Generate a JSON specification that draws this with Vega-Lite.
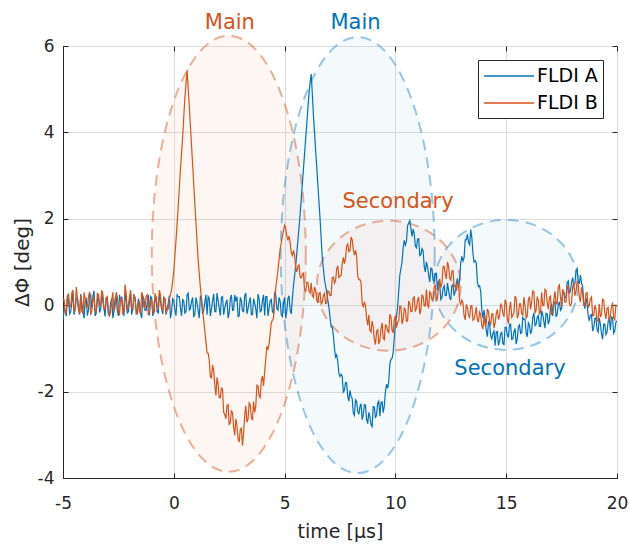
{
 "$schema": "https://vega.github.io/schema/vega-lite/v6.json",
 "width": 554,
 "height": 432,
 "autosize": {"type": "none"},
 "padding": {"left": 63, "top": 46, "right": 12, "bottom": 67},
 "background": "white",
 "config": {
  "font": "DejaVu Sans",
  "view": {"stroke": "#262626", "strokeWidth": 1},
  "axis": {"domainColor": "#262626", "tickColor": "#262626", "labelColor": "#262626", "titleColor": "#262626", "gridColor": "#dedede", "labelFont": "DejaVu Sans", "labelFontSize": 17, "titleFont": "DejaVu Sans", "titleFontSize": 19, "titleFontWeight": "normal"},
  "legend": {"orient": "top-right", "offset": 14, "strokeColor": "#262626", "fillColor": "white", "padding": 5, "labelFont": "DejaVu Sans", "labelFontSize": 19, "labelColor": "#000000", "symbolType": "M -2.5 0 L 2.5 0", "symbolSize": 400, "symbolStrokeWidth": 1.5, "symbolOffset": 15, "labelOffset": 17, "rowPadding": 6}
 },
 "datasets": {
  "ell": [
   {"cx": 2.48, "cy": 1.19, "kind": "main", "series": "b"},
   {"cx": 8.3, "cy": 1.16, "kind": "main", "series": "a"},
   {"cx": 9.7, "cy": 0.45, "kind": "sec", "series": "b"},
   {"cx": 15.0, "cy": 0.47, "kind": "sec", "series": "a"}
  ],
  "lab": [
   {"x": 2.53, "y": 6.39, "txt": "Main", "series": "b"},
   {"x": 8.2, "y": 6.39, "txt": "Main", "series": "a"},
   {"x": 10.12, "y": 2.25, "txt": "Secondary", "series": "b"},
   {"x": 15.17, "y": -1.62, "txt": "Secondary", "series": "a"}
  ],
  "sig": [
{"t":-5.0,"a":-0.35,"b":0.14},{"t":-4.95,"a":-0.05,"b":0.13},{"t":-4.9,"a":-0.13,"b":-0.21},{"t":-4.85,"a":-0.25,"b":-0.13},{"t":-4.8,"a":0.22,"b":0.2},{"t":-4.75,"a":0.1,"b":0.27},{"t":-4.7,"a":-0.2,"b":-0.06},{"t":-4.65,"a":-0.15,"b":0.0},{"t":-4.6,"a":0.07,"b":0.29},{"t":-4.55,"a":0.28,"b":0.35},
{"t":-4.5,"a":-0.22,"b":-0.15},{"t":-4.45,"a":-0.08,"b":-0.1},{"t":-4.4,"a":0.15,"b":0.42},{"t":-4.35,"a":0.18,"b":0.17},{"t":-4.3,"a":-0.09,"b":-0.08},{"t":-4.25,"a":-0.22,"b":-0.19},{"t":-4.2,"a":0.26,"b":0.23},{"t":-4.15,"a":0.05,"b":-0.15},{"t":-4.1,"a":-0.15,"b":-0.19},{"t":-4.05,"a":-0.3,"b":0.3},
{"t":-4.0,"a":0.11,"b":0.16},{"t":-3.95,"a":0.15,"b":-0.05},{"t":-3.9,"a":-0.24,"b":-0.04},{"t":-3.85,"a":-0.12,"b":0.2},{"t":-3.8,"a":0.2,"b":0.31},{"t":-3.75,"a":0.24,"b":-0.23},{"t":-3.7,"a":-0.07,"b":-0.13},{"t":-3.65,"a":0.2,"b":0.13},{"t":-3.6,"a":0.33,"b":0.18},{"t":-3.55,"a":-0.25,"b":-0.13},
{"t":-3.5,"a":-0.18,"b":-0.17},{"t":-3.45,"a":0.1,"b":0.27},{"t":-3.4,"a":0.24,"b":0.25},{"t":-3.35,"a":-0.15,"b":0.0},{"t":-3.3,"a":-0.11,"b":-0.02},{"t":-3.25,"a":0.28,"b":0.35},{"t":-3.2,"a":0.09,"b":0.27},{"t":-3.15,"a":-0.08,"b":-0.1},{"t":-3.1,"a":-0.26,"b":-0.1},{"t":-3.05,"a":0.18,"b":0.17},
{"t":-3.0,"a":0.12,"b":0.2},{"t":-2.95,"a":-0.22,"b":-0.19},{"t":-2.9,"a":-0.2,"b":-0.25},{"t":-2.85,"a":0.05,"b":-0.15},{"t":-2.8,"a":0.16,"b":0.12},{"t":-2.75,"a":-0.3,"b":0.3},{"t":-2.7,"a":-0.14,"b":-0.14},{"t":-2.65,"a":0.15,"b":-0.05},{"t":-2.6,"a":0.22,"b":0.3},{"t":-2.55,"a":-0.12,"b":0.2},
{"t":-2.5,"a":-0.25,"b":-0.1},{"t":-2.45,"a":0.24,"b":-0.23},{"t":-2.4,"a":0.1,"b":0.16},{"t":-2.35,"a":0.2,"b":0.13},{"t":-2.3,"a":-0.05,"b":-0.22},{"t":-2.25,"a":-0.25,"b":-0.13},{"t":-2.2,"a":0.28,"b":0.48},{"t":-2.15,"a":0.1,"b":0.27},{"t":-2.1,"a":-0.18,"b":-0.12},{"t":-2.05,"a":-0.15,"b":0.0},
{"t":-2.0,"a":0.08,"b":0.2},{"t":-1.95,"a":0.28,"b":0.35},{"t":-1.9,"a":-0.22,"b":-0.08},{"t":-1.85,"a":-0.08,"b":-0.1},{"t":-1.8,"a":0.18,"b":0.26},{"t":-1.75,"a":0.18,"b":0.17},{"t":-1.7,"a":-0.1,"b":-0.2},{"t":-1.65,"a":-0.22,"b":-0.19},{"t":-1.6,"a":0.15,"b":0.1},{"t":-1.55,"a":0.05,"b":-0.15},
{"t":-1.5,"a":-0.2,"b":-0.18},{"t":-1.45,"a":-0.3,"b":0.3},{"t":-1.4,"a":0.21,"b":0.22},{"t":-1.35,"a":0.15,"b":-0.05},{"t":-1.3,"a":-0.12,"b":-0.05},{"t":-1.25,"a":-0.12,"b":0.2},{"t":-1.2,"a":0.06,"b":0.24},{"t":-1.15,"a":0.24,"b":-0.23},{"t":-1.1,"a":-0.24,"b":-0.14},{"t":-1.05,"a":0.2,"b":0.13},
{"t":-1.0,"a":0.17,"b":0.12},{"t":-0.95,"a":-0.25,"b":-0.13},{"t":-0.9,"a":-0.15,"b":-0.2},{"t":-0.85,"a":0.1,"b":0.27},{"t":-0.8,"a":0.2,"b":0.18},{"t":-0.75,"a":-0.15,"b":0.0},{"t":-0.7,"a":-0.18,"b":-0.08},{"t":-0.65,"a":0.28,"b":0.35},{"t":-0.6,"a":0.09,"b":0.22},{"t":-0.55,"a":-0.08,"b":-0.1},
{"t":-0.5,"a":-0.2,"b":-0.12},{"t":-0.45,"a":0.18,"b":0.17},{"t":-0.4,"a":0.14,"b":0.15},{"t":-0.35,"a":-0.22,"b":-0.19},{"t":-0.3,"a":-0.1,"b":-0.05},{"t":-0.25,"a":0.05,"b":-0.08},{"t":-0.2,"a":0.22,"b":0.15},{"t":-0.15,"a":-0.3,"b":0.25},{"t":-0.1,"a":-0.14,"b":0.35},{"t":-0.05,"a":0.15,"b":0.55},
{"t":0.0,"a":0.11,"b":0.8},{"t":0.05,"a":-0.12,"b":1.15},{"t":0.1,"a":-0.24,"b":1.5},{"t":0.15,"a":0.24,"b":1.9},{"t":0.2,"a":0.2,"b":2.3},{"t":0.25,"a":0.2,"b":2.72},{"t":0.3,"a":-0.07,"b":3.15},{"t":0.35,"a":-0.25,"b":3.52},{"t":0.4,"a":0.13,"b":3.9},{"t":0.45,"a":0.1,"b":4.35},
{"t":0.5,"a":-0.18,"b":4.8},{"t":0.55,"a":-0.15,"b":5.12},{"t":0.6,"a":0.24,"b":5.45},{"t":0.65,"a":0.28,"b":5.0},{"t":0.7,"a":-0.11,"b":4.6},{"t":0.75,"a":-0.08,"b":4.15},{"t":0.8,"a":0.09,"b":3.7},{"t":0.85,"a":0.18,"b":3.25},{"t":0.9,"a":-0.26,"b":2.8},{"t":0.95,"a":-0.22,"b":2.35},
{"t":1.0,"a":0.18,"b":1.9},{"t":1.05,"a":0.05,"b":1.47},{"t":1.1,"a":-0.13,"b":1.05},{"t":1.15,"a":-0.3,"b":0.72},{"t":1.2,"a":0.22,"b":0.4},{"t":1.25,"a":0.15,"b":0.15},{"t":1.3,"a":-0.2,"b":-0.1},{"t":1.35,"a":-0.12,"b":-0.35},{"t":1.4,"a":0.07,"b":-0.6},{"t":1.45,"a":0.24,"b":-0.85},
{"t":1.5,"a":-0.22,"b":-1.1},{"t":1.55,"a":0.2,"b":-1.11},{"t":1.6,"a":0.15,"b":-1.28},{"t":1.65,"a":-0.25,"b":-1.66},{"t":1.7,"a":-0.09,"b":-1.68},{"t":1.75,"a":0.1,"b":-1.38},{"t":1.8,"a":0.26,"b":-1.52},{"t":1.85,"a":-0.15,"b":-1.85},{"t":1.9,"a":-0.15,"b":-2.09},{"t":1.95,"a":0.28,"b":-1.67},
{"t":2.0,"a":0.11,"b":-1.84},{"t":2.05,"a":-0.08,"b":-2.14},{"t":2.1,"a":-0.24,"b":-2.14},{"t":2.15,"a":0.18,"b":-1.92},{"t":2.2,"a":0.2,"b":-1.94},{"t":2.25,"a":-0.22,"b":-2.48},{"t":2.3,"a":-0.07,"b":-2.53},{"t":2.35,"a":0.05,"b":-2.63},{"t":2.4,"a":0.13,"b":-2.32},{"t":2.45,"a":-0.3,"b":-2.3},
{"t":2.5,"a":-0.18,"b":-2.77},{"t":2.55,"a":0.15,"b":-2.71},{"t":2.6,"a":0.24,"b":-2.45},{"t":2.65,"a":-0.12,"b":-2.49},{"t":2.7,"a":-0.11,"b":-2.82},{"t":2.75,"a":0.24,"b":-3.01},{"t":2.8,"a":0.09,"b":-2.63},{"t":2.85,"a":0.2,"b":-2.79},{"t":2.9,"a":-0.26,"b":-3.1},{"t":2.95,"a":-0.25,"b":-3.17},
{"t":3.0,"a":0.18,"b":-2.88},{"t":3.05,"a":0.1,"b":-2.85},{"t":3.1,"a":-0.13,"b":-3.25},{"t":3.15,"a":-0.15,"b":-2.95},{"t":3.2,"a":0.22,"b":-2.55},{"t":3.25,"a":0.28,"b":-2.33},{"t":3.3,"a":-0.2,"b":-2.71},{"t":3.35,"a":-0.08,"b":-2.64},{"t":3.4,"a":0.07,"b":-2.26},{"t":3.45,"a":0.18,"b":-2.31},
{"t":3.5,"a":-0.22,"b":-2.6},{"t":3.55,"a":-0.22,"b":-2.66},{"t":3.6,"a":0.15,"b":-2.23},{"t":3.65,"a":0.05,"b":-2.48},{"t":3.7,"a":-0.09,"b":-2.33},{"t":3.75,"a":-0.3,"b":-1.85},{"t":3.8,"a":0.26,"b":-1.87},{"t":3.85,"a":0.15,"b":-2.1},{"t":3.9,"a":-0.15,"b":-2.14},{"t":3.95,"a":-0.12,"b":-1.74},
{"t":4.0,"a":0.11,"b":-1.64},{"t":4.05,"a":0.24,"b":-1.87},{"t":4.1,"a":-0.24,"b":-1.54},{"t":4.15,"a":0.2,"b":-1.25},{"t":4.2,"a":0.2,"b":-0.95},{"t":4.25,"a":-0.25,"b":-1.03},{"t":4.3,"a":-0.07,"b":-0.9},{"t":4.35,"a":0.1,"b":-0.65},{"t":4.4,"a":0.13,"b":-0.4},{"t":4.45,"a":-0.15,"b":-0.35},
{"t":4.5,"a":-0.18,"b":-0.3},{"t":4.55,"a":0.28,"b":0.05},{"t":4.6,"a":0.24,"b":0.4},{"t":4.65,"a":-0.08,"b":0.6},{"t":4.7,"a":-0.11,"b":0.8},{"t":4.75,"a":0.18,"b":1.05},{"t":4.8,"a":0.09,"b":1.3},{"t":4.85,"a":-0.22,"b":1.45},{"t":4.9,"a":-0.26,"b":1.6},{"t":4.95,"a":0.05,"b":1.72},
{"t":5.0,"a":0.18,"b":1.85},{"t":5.05,"a":-0.3,"b":1.78},{"t":5.1,"a":-0.13,"b":1.6},{"t":5.15,"a":0.15,"b":1.5},{"t":5.2,"a":0.22,"b":1.6},{"t":5.25,"a":-0.12,"b":1.45},{"t":5.3,"a":-0.2,"b":1.22},{"t":5.35,"a":0.15,"b":1.15},{"t":5.4,"a":0.45,"b":1.27},{"t":5.45,"a":0.68,"b":1.15},
{"t":5.5,"a":0.9,"b":0.88},{"t":5.55,"a":1.2,"b":0.77},{"t":5.6,"a":1.5,"b":0.9},{"t":5.65,"a":1.8,"b":0.93},{"t":5.7,"a":2.1,"b":0.65},{"t":5.75,"a":2.45,"b":0.63},{"t":5.8,"a":2.8,"b":0.72},{"t":5.85,"a":3.15,"b":0.74},{"t":5.9,"a":3.5,"b":0.35},{"t":5.95,"a":3.85,"b":0.32},
{"t":6.0,"a":4.2,"b":0.53},{"t":6.05,"a":4.55,"b":0.53},{"t":6.1,"a":4.9,"b":0.33},{"t":6.15,"a":5.15,"b":0.28},{"t":6.2,"a":5.35,"b":0.52},{"t":6.25,"a":4.9,"b":0.23},{"t":6.3,"a":4.4,"b":0.18},{"t":6.35,"a":4.0,"b":0.42},{"t":6.4,"a":3.6,"b":0.35},{"t":6.45,"a":3.2,"b":0.12},
{"t":6.5,"a":2.8,"b":0.05},{"t":6.55,"a":2.4,"b":0.27},{"t":6.6,"a":2.0,"b":0.29},{"t":6.65,"a":1.55,"b":0.03},{"t":6.7,"a":1.1,"b":0.07},{"t":6.75,"a":0.85,"b":0.22},{"t":6.8,"a":0.6,"b":0.27},{"t":6.85,"a":0.45,"b":0.04},{"t":6.9,"a":0.3,"b":0.05},{"t":6.95,"a":0.12,"b":0.33},
{"t":7.0,"a":-0.05,"b":0.31},{"t":7.05,"a":-0.28,"b":0.22},{"t":7.1,"a":-0.5,"b":0.23},{"t":7.15,"a":-0.5,"b":0.64},{"t":7.2,"a":-0.7,"b":0.65},{"t":7.25,"a":-1.0,"b":0.51},{"t":7.3,"a":-1.2,"b":0.57},{"t":7.35,"a":-1.15,"b":0.84},{"t":7.4,"a":-1.3,"b":0.91},{"t":7.45,"a":-1.58,"b":0.64},
{"t":7.5,"a":-1.65,"b":0.67},{"t":7.55,"a":-1.6,"b":0.69},{"t":7.6,"a":-1.65,"b":0.95},{"t":7.65,"a":-2.01,"b":1.11},{"t":7.7,"a":-1.97,"b":0.96},{"t":7.75,"a":-1.79,"b":1.09},{"t":7.8,"a":-1.8,"b":1.37},{"t":7.85,"a":-2.11,"b":1.41},{"t":7.9,"a":-2.22,"b":1.24},{"t":7.95,"a":-1.97,"b":1.26},
{"t":8.0,"a":-2.11,"b":1.58},{"t":8.05,"a":-2.16,"b":1.52},{"t":8.1,"a":-2.5,"b":1.29},{"t":8.15,"a":-2.55,"b":1.16},{"t":8.2,"a":-2.19,"b":1.27},{"t":8.25,"a":-2.23,"b":1.13},{"t":8.3,"a":-2.46,"b":0.68},{"t":8.35,"a":-2.53,"b":0.59},{"t":8.4,"a":-2.35,"b":0.59},{"t":8.45,"a":-2.28,"b":0.52},
{"t":8.5,"a":-2.65,"b":0.05},{"t":8.55,"a":-2.54,"b":-0.05},{"t":8.6,"a":-2.3,"b":0.08},{"t":8.65,"a":-2.32,"b":-0.01},{"t":8.7,"a":-2.64,"b":-0.3},{"t":8.75,"a":-2.74,"b":-0.46},{"t":8.8,"a":-2.48,"b":-0.22},{"t":8.85,"a":-2.58,"b":-0.58},{"t":8.9,"a":-2.77,"b":-0.62},{"t":8.95,"a":-2.81,"b":-0.37},
{"t":9.0,"a":-2.35,"b":-0.51},{"t":9.05,"a":-2.36,"b":-0.79},{"t":9.1,"a":-2.61,"b":-0.91},{"t":9.15,"a":-2.54,"b":-0.61},{"t":9.2,"a":-2.27,"b":-0.55},{"t":9.25,"a":-2.22,"b":-0.9},{"t":9.3,"a":-2.57,"b":-0.81},{"t":9.35,"a":-2.25,"b":-0.55},{"t":9.4,"a":-2.24,"b":-0.41},{"t":9.45,"a":-2.49,"b":-0.76},
{"t":9.5,"a":-2.33,"b":-0.8},{"t":9.55,"a":-2.0,"b":-0.46},{"t":9.6,"a":-1.83,"b":-0.48},{"t":9.65,"a":-1.92,"b":-0.6},{"t":9.7,"a":-1.77,"b":-0.63},{"t":9.75,"a":-1.36,"b":-0.21},{"t":9.8,"a":-1.25,"b":-0.27},{"t":9.85,"a":-1.23,"b":-0.58},{"t":9.9,"a":-1.1,"b":-0.64},{"t":9.95,"a":-0.76,"b":-0.34},
{"t":10.0,"a":-0.42,"b":-0.24},{"t":10.05,"a":-0.24,"b":-0.52},{"t":10.1,"a":-0.05,"b":-0.39},{"t":10.15,"a":0.33,"b":-0.37},{"t":10.2,"a":0.7,"b":-0.02},{"t":10.25,"a":0.85,"b":-0.03},{"t":10.3,"a":1.0,"b":-0.43},{"t":10.35,"a":1.33,"b":-0.33},{"t":10.4,"a":1.5,"b":-0.07},{"t":10.45,"a":1.39,"b":-0.1},
{"t":10.5,"a":1.48,"b":-0.37},{"t":10.55,"a":1.84,"b":-0.36},{"t":10.6,"a":1.9,"b":0.1},{"t":10.65,"a":1.96,"b":0.03},{"t":10.7,"a":1.77,"b":-0.15},{"t":10.75,"a":1.59,"b":-0.14},{"t":10.8,"a":1.76,"b":0.17},{"t":10.85,"a":1.65,"b":0.19},{"t":10.9,"a":1.37,"b":-0.15},{"t":10.95,"a":1.33,"b":-0.06},
{"t":11.0,"a":1.53,"b":0.11},{"t":11.05,"a":1.54,"b":0.19},{"t":11.1,"a":1.15,"b":-0.21},{"t":11.15,"a":1.17,"b":-0.11},{"t":11.2,"a":1.31,"b":0.23},{"t":11.25,"a":1.26,"b":0.21},{"t":11.3,"a":0.9,"b":-0.01},{"t":11.35,"a":0.77,"b":-0.02},{"t":11.4,"a":1.0,"b":0.36},{"t":11.45,"a":0.89,"b":0.0},
{"t":11.5,"a":0.69,"b":-0.05},{"t":11.55,"a":0.54,"b":0.31},{"t":11.6,"a":0.86,"b":0.27},{"t":11.65,"a":0.84,"b":0.12},{"t":11.7,"a":0.58,"b":0.12},{"t":11.75,"a":0.56,"b":0.42},{"t":11.8,"a":0.74,"b":0.48},{"t":11.85,"a":0.74,"b":0.1},{"t":11.9,"a":0.34,"b":0.16},{"t":11.95,"a":0.57,"b":0.45},
{"t":12.0,"a":0.48,"b":0.61},{"t":12.05,"a":0.13,"b":0.41},{"t":12.1,"a":0.17,"b":0.51},{"t":12.15,"a":0.39,"b":0.89},{"t":12.2,"a":0.45,"b":0.9},{"t":12.25,"a":0.22,"b":0.72},{"t":12.3,"a":0.23,"b":0.61},{"t":12.35,"a":0.51,"b":1.0},{"t":12.4,"a":0.35,"b":0.9},{"t":12.45,"a":0.18,"b":0.62},
{"t":12.5,"a":0.12,"b":0.58},{"t":12.55,"a":0.45,"b":0.79},{"t":12.6,"a":0.48,"b":0.8},{"t":12.65,"a":0.22,"b":0.43},{"t":12.7,"a":0.32,"b":0.45},{"t":12.75,"a":0.51,"b":0.33},{"t":12.8,"a":0.62,"b":0.52},{"t":12.85,"a":0.38,"b":0.5},{"t":12.9,"a":0.61,"b":0.08},{"t":12.95,"a":0.99,"b":0.02},
{"t":13.0,"a":1.13,"b":0.12},{"t":13.05,"a":1.02,"b":0.05},{"t":13.1,"a":1.1,"b":-0.25},{"t":13.15,"a":1.51,"b":-0.34},{"t":13.2,"a":1.51,"b":0.02},{"t":13.25,"a":1.64,"b":-0.05},{"t":13.3,"a":1.45,"b":-0.23},{"t":13.35,"a":1.4,"b":-0.28},{"t":13.4,"a":1.75,"b":-0.02},{"t":13.45,"a":1.56,"b":-0.01},
{"t":13.5,"a":1.2,"b":-0.35},{"t":13.55,"a":1.0,"b":-0.32},{"t":13.6,"a":1.03,"b":-0.2},{"t":13.65,"a":0.98,"b":-0.04},{"t":13.7,"a":0.53,"b":-0.35},{"t":13.75,"a":0.43,"b":-0.38},{"t":13.8,"a":0.45,"b":-0.16},{"t":13.85,"a":0.32,"b":-0.22},{"t":13.9,"a":-0.12,"b":-0.48},{"t":13.95,"a":-0.3,"b":-0.55},
{"t":14.0,"a":-0.11,"b":-0.22},{"t":14.05,"a":-0.31,"b":-0.48},{"t":14.1,"a":-0.59,"b":-0.42},{"t":14.15,"a":-0.73,"b":-0.09},{"t":14.2,"a":-0.39,"b":-0.15},{"t":14.25,"a":-0.43,"b":-0.38},{"t":14.3,"a":-0.71,"b":-0.44},{"t":14.35,"a":-0.78,"b":-0.2},{"t":14.4,"a":-0.65,"b":-0.2},{"t":14.45,"a":-0.6,"b":-0.53},
{"t":14.5,"a":-0.94,"b":-0.42},{"t":14.55,"a":-0.62,"b":-0.2},{"t":14.6,"a":-0.61,"b":-0.1},{"t":14.65,"a":-0.93,"b":-0.33},{"t":14.7,"a":-0.84,"b":-0.25},{"t":14.75,"a":-0.66,"b":0.04},{"t":14.8,"a":-0.63,"b":-0.03},{"t":14.85,"a":-0.89,"b":-0.19},{"t":14.9,"a":-0.91,"b":-0.27},{"t":14.95,"a":-0.51,"b":0.13},
{"t":15.0,"a":-0.51,"b":0.05},{"t":15.05,"a":-0.69,"b":-0.31},{"t":15.1,"a":-0.75,"b":-0.43},{"t":15.15,"a":-0.45,"b":-0.08},{"t":15.2,"a":-0.44,"b":0.08},{"t":15.25,"a":-0.79,"b":-0.28},{"t":15.3,"a":-0.78,"b":-0.23},{"t":15.35,"a":-0.62,"b":-0.17},{"t":15.4,"a":-0.54,"b":0.21},{"t":15.45,"a":-0.9,"b":0.15},
{"t":15.5,"a":-0.78,"b":-0.3},{"t":15.55,"a":-0.5,"b":-0.22},{"t":15.6,"a":-0.46,"b":0.03},{"t":15.65,"a":-0.65,"b":0.03},{"t":15.7,"a":-0.63,"b":-0.2},{"t":15.75,"a":-0.28,"b":-0.22},{"t":15.8,"a":-0.33,"b":0.19},{"t":15.85,"a":-0.33,"b":0.0},{"t":15.9,"a":-0.64,"b":-0.31},{"t":15.95,"a":-0.73,"b":-0.24},
{"t":16.0,"a":-0.41,"b":0.13},{"t":16.05,"a":-0.46,"b":0.2},{"t":16.1,"a":-0.66,"b":-0.1},{"t":16.15,"a":-0.59,"b":0.08},{"t":16.2,"a":-0.28,"b":0.33},{"t":16.25,"a":-0.18,"b":0.31},{"t":16.3,"a":-0.47,"b":-0.19},{"t":16.35,"a":-0.44,"b":-0.11},{"t":16.4,"a":-0.28,"b":0.2},{"t":16.45,"a":-0.24,"b":0.1},
{"t":16.5,"a":-0.49,"b":-0.21},{"t":16.55,"a":-0.49,"b":-0.15},{"t":16.6,"a":-0.13,"b":0.3},{"t":16.65,"a":-0.22,"b":-0.01},{"t":16.7,"a":-0.38,"b":-0.01},{"t":16.75,"a":-0.53,"b":0.37},{"t":16.8,"a":-0.19,"b":0.34},{"t":16.85,"a":-0.2,"b":0.05},{"t":16.9,"a":-0.44,"b":-0.09},{"t":16.95,"a":-0.35,"b":0.18},
{"t":17.0,"a":-0.06,"b":0.21},{"t":17.05,"a":0.04,"b":-0.21},{"t":17.1,"a":-0.25,"b":-0.19},{"t":17.15,"a":0.07,"b":0.13},{"t":17.2,"a":0.08,"b":0.32},{"t":17.25,"a":-0.27,"b":0.03},{"t":17.3,"a":-0.21,"b":0.03},{"t":17.35,"a":0.01,"b":0.43},{"t":17.4,"a":0.08,"b":0.47},{"t":17.45,"a":-0.12,"b":0.18},
{"t":17.5,"a":-0.08,"b":-0.04},{"t":17.55,"a":0.31,"b":0.37},{"t":17.6,"a":0.3,"b":0.3},{"t":17.65,"a":0.18,"b":0.07},{"t":17.7,"a":0.18,"b":0.08},{"t":17.75,"a":0.52,"b":0.38},{"t":17.8,"a":0.56,"b":0.48},{"t":17.85,"a":0.27,"b":0.04},{"t":17.9,"a":0.33,"b":-0.01},{"t":17.95,"a":0.53,"b":0.05},
{"t":18.0,"a":0.64,"b":0.43},{"t":18.05,"a":0.45,"b":0.53},{"t":18.1,"a":0.5,"b":0.22},{"t":18.15,"a":0.8,"b":0.31},{"t":18.2,"a":0.85,"b":0.55},{"t":18.25,"a":0.57,"b":0.49},{"t":18.3,"a":0.49,"b":0.18},{"t":18.35,"a":0.7,"b":0.08},{"t":18.4,"a":0.5,"b":0.42},{"t":18.45,"a":0.44,"b":0.27},
{"t":18.5,"a":0.06,"b":0.0},{"t":18.55,"a":-0.08,"b":-0.01},{"t":18.6,"a":0.17,"b":0.28},{"t":18.65,"a":0.04,"b":0.29},{"t":18.7,"a":-0.24,"b":-0.06},{"t":18.75,"a":-0.36,"b":0.01},{"t":18.8,"a":-0.23,"b":0.15},{"t":18.85,"a":-0.22,"b":0.19},{"t":18.9,"a":-0.6,"b":-0.24},{"t":18.95,"a":-0.52,"b":-0.24},
{"t":19.0,"a":-0.31,"b":0.0},{"t":19.05,"a":-0.29,"b":-0.09},{"t":19.1,"a":-0.57,"b":-0.37},{"t":19.15,"a":-0.62,"b":-0.37},{"t":19.2,"a":-0.3,"b":0.03},{"t":19.25,"a":-0.44,"b":-0.26},{"t":19.3,"a":-0.66,"b":-0.23},{"t":19.35,"a":-0.79,"b":0.14},{"t":19.4,"a":-0.44,"b":0.12},{"t":19.45,"a":-0.44,"b":-0.18},
{"t":19.5,"a":-0.68,"b":-0.32},{"t":19.55,"a":-0.63,"b":-0.07},{"t":19.6,"a":-0.38,"b":-0.05},{"t":19.65,"a":-0.28,"b":-0.37},{"t":19.7,"a":-0.57,"b":-0.25},{"t":19.75,"a":-0.27,"b":-0.04},{"t":19.8,"a":-0.29,"b":0.06},{"t":19.85,"a":-0.65,"b":-0.29},{"t":19.9,"a":-0.6,"b":-0.34},{"t":19.95,"a":-0.4,"b":0.0},
{"t":20.0,"a":-0.36,"b":-0.02}
  ]
 },
 "resolve": {"axis": {"x": "independent", "y": "independent"}},
 "layer": [
  {
   "data": {"name": "ell"},
   "transform": [{"filter": "datum.series == 'b'"}],
   "mark": {"type": "point", "size": 4, "fill": "#D95319", "fillOpacity": 0.05, "stroke": "#D95319", "strokeOpacity": 0.45, "strokeWidth": 2, "strokeDash": [11, 7], "opacity": 1},
   "encoding": {
    "x": {"field": "cx", "type": "quantitative", "scale": {"domain": [-5, 20], "nice": false, "zero": false},
          "axis": {"orient": "bottom", "values": [-5, 0, 5, 10, 15, 20], "labelExpr": "'' + datum.value", "grid": true, "tickSize": -5, "labelPadding": 35, "labelBaseline": "alphabetic", "labelFlush": false, "title": "time [μs]", "titleX": 277, "titleY": 59, "titleBaseline": "alphabetic", "titleAlign": "center", "domainWidth": 1}},
    "y": {"field": "cy", "type": "quantitative", "scale": {"domain": [-4, 6], "nice": false, "zero": false},
          "axis": {"orient": "left", "values": [-4, -2, 0, 2, 4, 6], "labelExpr": "'' + datum.value", "grid": true, "tickSize": -5, "labelPadding": 14, "labelFlush": false, "title": "ΔΦ [deg]", "titleX": -41, "titleY": 216, "titleAngle": 270, "titleBaseline": "middle", "titleAlign": "center", "titleFontSize": 20, "domainWidth": 1}},
    "shape": {"field": "kind", "type": "nominal", "legend": null,
              "scale": {"domain": ["main", "sec"], "range": ["M 77 0 C 77 120.4 42.53 218 0 218 C -42.53 218 -77 120.4 -77 0 C -77 -120.4 -42.53 -218 0 -218 C 42.53 -218 77 -120.4 77 0 Z", "M 72 0 C 72 35.9 39.77 65 0 65 C -39.77 65 -72 35.9 -72 0 C -72 -35.9 -39.77 -65 0 -65 C 39.77 -65 72 -35.9 72 0 Z"]}}
   }
  },
  {
   "data": {"name": "ell"},
   "transform": [{"filter": "datum.series == 'a'"}],
   "mark": {"type": "point", "size": 4, "fill": "#0072BD", "fillOpacity": 0.045, "stroke": "#0072BD", "strokeOpacity": 0.4, "strokeWidth": 2, "strokeDash": [11, 7], "opacity": 1},
   "encoding": {
    "x": {"field": "cx", "type": "quantitative", "scale": {"domain": [-5, 20], "nice": false, "zero": false},
          "axis": {"orient": "top", "values": [-5, 0, 5, 10, 15, 20], "grid": false, "tickSize": -5, "labels": false, "domain": false, "title": null}},
    "y": {"field": "cy", "type": "quantitative", "scale": {"domain": [-4, 6], "nice": false, "zero": false},
          "axis": {"orient": "right", "values": [-4, -2, 0, 2, 4, 6], "grid": false, "tickSize": -5, "labels": false, "domain": false, "title": null}},
    "shape": {"field": "kind", "type": "nominal", "legend": null,
              "scale": {"domain": ["main", "sec"], "range": ["M 77 0 C 77 120.4 42.53 218 0 218 C -42.53 218 -77 120.4 -77 0 C -77 -120.4 -42.53 -218 0 -218 C 42.53 -218 77 -120.4 77 0 Z", "M 72 0 C 72 35.9 39.77 65 0 65 C -39.77 65 -72 35.9 -72 0 C -72 -35.9 -39.77 -65 0 -65 C 39.77 -65 72 -35.9 72 0 Z"]}}
   }
  },
  {
   "data": {"name": "sig"},
   "transform": [{"fold": ["a", "b"], "as": ["series", "v"]}],
   "mark": {"type": "line", "strokeWidth": 1.2, "clip": true},
   "encoding": {
    "x": {"field": "t", "type": "quantitative", "scale": {"domain": [-5, 20], "nice": false, "zero": false}, "axis": null},
    "y": {"field": "v", "type": "quantitative", "scale": {"domain": [-4, 6], "nice": false, "zero": false}, "axis": null},
    "color": {"field": "series", "type": "nominal", "title": null,
              "scale": {"domain": ["a", "b"], "range": ["#0072BD", "#D95319"]},
              "legend": {"labelExpr": "datum.label == 'a' ? 'FLDI A' : 'FLDI B'"}}
   }
  },
  {
   "data": {"name": "lab"},
   "transform": [{"filter": "datum.series == 'b'"}],
   "mark": {"type": "text", "font": "DejaVu Sans", "fontSize": 21, "color": "#D95319", "align": "center", "baseline": "alphabetic"},
   "encoding": {
    "x": {"field": "x", "type": "quantitative", "scale": {"domain": [-5, 20], "nice": false, "zero": false}, "axis": null},
    "y": {"field": "y", "type": "quantitative", "scale": {"domain": [-4, 6], "nice": false, "zero": false}, "axis": null},
    "text": {"field": "txt"}
   }
  },
  {
   "data": {"name": "lab"},
   "transform": [{"filter": "datum.series == 'a'"}],
   "mark": {"type": "text", "font": "DejaVu Sans", "fontSize": 21, "color": "#0072BD", "align": "center", "baseline": "alphabetic"},
   "encoding": {
    "x": {"field": "x", "type": "quantitative", "scale": {"domain": [-5, 20], "nice": false, "zero": false}, "axis": null},
    "y": {"field": "y", "type": "quantitative", "scale": {"domain": [-4, 6], "nice": false, "zero": false}, "axis": null},
    "text": {"field": "txt"}
   }
  }
 ]
}
